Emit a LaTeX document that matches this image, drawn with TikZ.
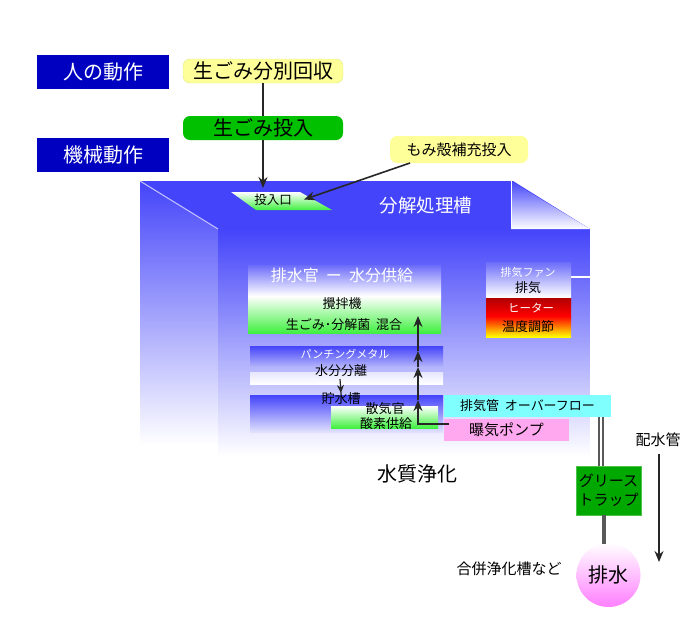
\documentclass[tikz,border=0pt]{standalone}
\usepackage{fontspec}
\setmainfont{Noto Sans CJK JP}
\usetikzlibrary{arrows.meta}
\definecolor{tankblue}{HTML}{4444FA}
\definecolor{tankpale}{HTML}{9C9CFA}
\definecolor{darkblue}{HTML}{0000C0}
\definecolor{palegreen}{HTML}{40F040}
\definecolor{paleyellow}{HTML}{FFFF99}
\definecolor{palecyan}{HTML}{80FFFF}
\definecolor{palepink}{HTML}{FFA8F0}
\definecolor{trapgreen}{HTML}{00A800}
\definecolor{throwgreen}{HTML}{00C000}
\tikzset{
	lab/.style={inner sep=0,outer sep=0,font=\fontsize{#1}{#1}\selectfont},
	box/.style={inner sep=0,outer sep=0},
	tag/.style={box,fill=darkblue,text=white,minimum width=132,minimum height=34,font=\fontsize{20}{20}\selectfont},
	pill/.style={box,rounded corners=7,minimum width=160,minimum height=24,font=\fontsize{20}{20}\selectfont},
	line/.style={line width=1.5,draw=black!85},
	tip/.style={-{Stealth[length=11,width=9]},line width=1.6,draw=black!85}
}
\begin{document}
\begin{tikzpicture}[x=1pt,y=-1pt]
	\useasboundingbox[fill=white] (0,0) rectangle (700,624);
	% tank
	\shade[top color=tankblue,middle color=tankpale!80!white,bottom color=white] (140,181) rectangle (218,445);
	\shade[top color=tankblue,middle color=tankpale,bottom color=white] (218,229) rectangle (590,456);
	\fill[tankblue] (140,181) -- (513,181) -- (590,229) -- (218,229) -- cycle;
	\shade[top color=tankblue,bottom color=white] (511,181) -- (590,229) -- (511,229) -- cycle;
	\draw[white!70!tankblue,line width=1] (140,181) -- (218,229);
	\draw[white,line width=1] (511,181) -- (511,229);
	\draw[white,line width=1] (590,229) -- (590,456);
	\draw[white,line width=1.2] (571,277) -- (590,277);
	% inlet
	\shade[top color=white,bottom color=palegreen] (231,192) -- (300,192) -- (332,210) -- (256,210) -- cycle;
	\node[lab=12.5] (inlet) at (273,200) {投入口};
	\node[lab=18.5,text=white] (tanklabel) at (426,206) {分解処理槽};
	% top of the flow
	\node[tag] (human) at (103,72) {人の動作};
	\node[tag] (machine) at (103,155) {機械動作};
	\node[pill,fill=paleyellow,draw=yellow!70!green!50] (sort) at (263,71) {生ごみ分別回収};
	\node[pill,fill=throwgreen] (throw) at (263,128) {生ごみ投入};
	\node[box,rounded corners=7,fill=paleyellow,minimum width=138,minimum height=27,font=\fontsize{15}{15}\selectfont] (husk) at (459,149.5) {もみ殻補充投入};
	\coordinate (intop) at (263,188);
	\coordinate (inside) at (304,199.5);
	\coordinate (huskfoot) at (410,163);
	\draw[line] (sort) -- (throw);
	\draw[tip] (throw) -- (intop);
	\draw[tip] (huskfoot) -- (inside);
	% mixer
	\shade[top color=tankblue!55!tankpale,middle color=tankpale,bottom color=white] (248,265) rectangle (441,296);
	\shade[top color=white,bottom color=palegreen] (248,296) rectangle (441,333);
	\node[lab=16,text=white] (watersupply) at (342,275) {排水官\ \ ー\ \ 水分供給};
	\node[lab=13] (mixer) at (342,304) {攪拌機};
	\node[lab=13] (mixing) at (344,325) {生ごみ･分解菌\ \ 混合};
	% punching metal
	\shade[top color=tankblue,bottom color=tankpale!80!white] (250,346) rectangle (443,366);
	\shade[top color=white!75!tankpale,bottom color=white] (250,372) rectangle (443,384);
	\node[lab=11,text=white] (metal) at (345,354) {パンチングメタル};
	\node[lab=13] (separate) at (341,371) {水分分離};
	% water tank
	\shade[top color=tankblue,middle color=tankpale,bottom color=white!70!tankpale] (250,395) rectangle (443,432);
	\shade[top color=white,bottom color=palegreen] (331,406) rectangle (438,428);
	\node[lab=13] (storage) at (341,399) {貯水槽};
	\node[lab=13] (diffuser) at (385,409) {散気官};
	\node[lab=13] (oxygen) at (386,424) {酸素供給};
	\draw[-{Stealth[length=8,width=7]},line width=1.2,draw=black!85] (separate.south) ++(-1,2) coordinate (sepfoot) -- (storage.north);
	% fan and heater
	\shade[top color=tankblue!55!tankpale,middle color=tankpale,bottom color=white] (486,262) rectangle (571,297);
	\shade[top color=red!70!black,bottom color=red] (486,298) rectangle (571,316);
	\shade[top color=red,middle color=orange!70!red,bottom color=yellow] (486,316) rectangle (571,337);
	\node[lab=11,text=white] (fan) at (528,272) {排気ファン};
	\node[lab=13] (exhaust) at (528,288) {排気};
	\node[lab=11.5,text=white] (heater) at (531,308) {ヒーター};
	\node[lab=13] (temp) at (528,327) {温度調節};
	% overflow and pump
	\node[box,fill=palecyan,minimum width=167,minimum height=22,font=\fontsize{13}{13}\selectfont] (overflow) at (527.5,406) {排気管\ \ オーバーフロー};
	\node[box,fill=palepink,minimum width=125,minimum height=22,font=\fontsize{15}{15}\selectfont] (pump) at (506.5,430) {曝気ポンプ};
	\coordinate (bend) at (418,424);
	\coordinate (a1) at (418,400);
	\coordinate (a2) at (418,367);
	\coordinate (a3) at (418,351);
	\coordinate (a4) at (418,316);
	\draw[tip] (pump.west |- bend) ++(5,0) coordinate (pumpout) -- (bend) -- (a1);
	\draw[tip] (a1) -- (a2);
	\draw[tip] (a2) -- (a3);
	\draw[tip] (a3) -- (a4);
	% drain
	\node[box,fill=trapgreen,draw=trapgreen!70!white,minimum width=65,minimum height=49,align=center,font=\fontsize{15}{19}\selectfont] (trap) at (608.5,490.5) {グリース\\トラップ};
	\node[box,circle,minimum size=64,top color=white,bottom color=magenta!50!white,font=\fontsize{20}{20}\selectfont] (drain) at (608.5,575) {排水};
	\coordinate (ovfoot) at (601,417);
	\coordinate (trapin) at (601,466);
	\coordinate (trapout) at (604,515);
	\coordinate (drainin) at (604,544);
	\draw[draw=black!65,line width=2,double=white,double distance=1.5] (ovfoot) -- (trapin);
	\draw[draw=black!65,line width=4] (trapout) -- (drainin);
	\node[lab=20] (purify) at (417,474) {水質浄化};
	\node[lab=15] (septic) at (509,569) {合併浄化槽など};
	\node[lab=15] (pipe) at (658,440) {配水管};
	\coordinate (pipeend) at (659,562);
	\draw[tip] (pipe.south) ++(1,7) coordinate (pipetop) -- (pipeend);
\end{tikzpicture}
\end{document}
